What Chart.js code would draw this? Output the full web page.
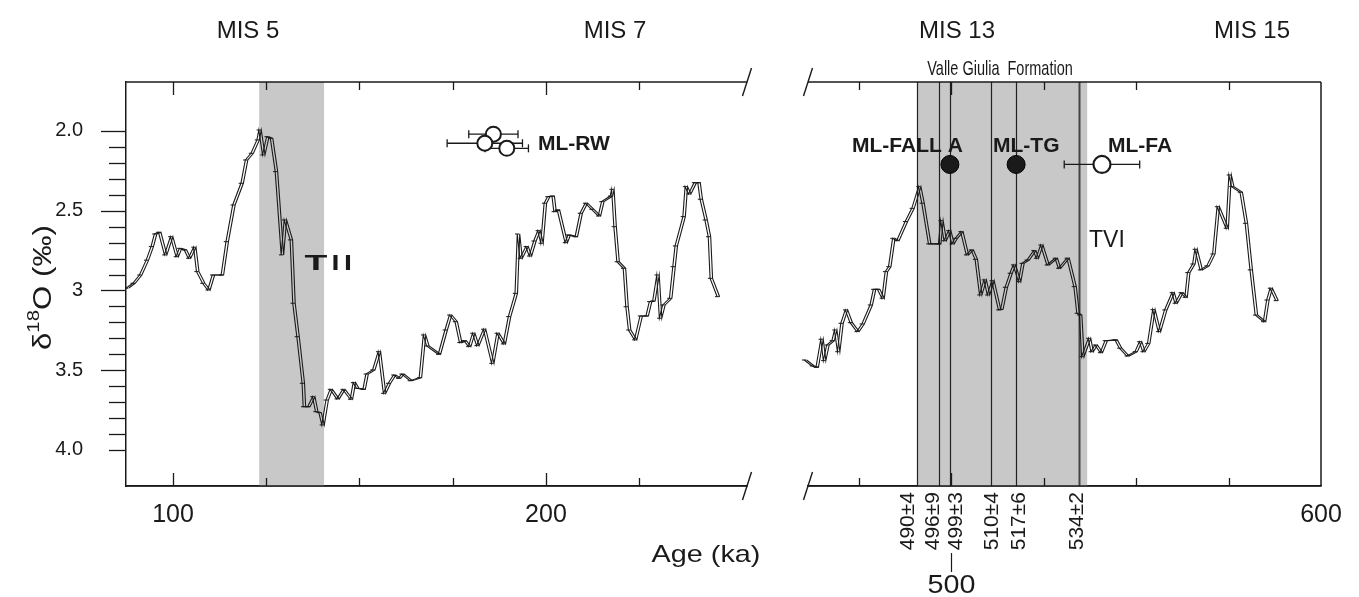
<!DOCTYPE html>
<html lang="en">
  <head>
    <meta charset="UTF-8" />
    <title>δ18O record, MIS 5–7 and MIS 13–15</title>
    <style>
      html,
      body {
        margin: 0;
        padding: 0;
        background: #fff;
      }
      #wrap {
        position: relative;
        width: 1359px;
        height: 597px;
      }
      #wrap canvas {
        position: absolute;
        left: 0;
        top: 0;
      }
    </style>
  </head>
  <body>
    <div id="wrap">
      <canvas id="leftChart" width="1359" height="597"></canvas>
      <canvas id="rightChart" width="1359" height="597"></canvas>
    </div>
    <script src="https://cdn.jsdelivr.net/npm/chart.js"></script>
    <script>
      const FONT = "'Liberation Sans', Arial, Helvetica, sans-serif"
      const INK = "#1a1a1a"

      // Benthic d18O, left panel (MIS 5 - MIS 7)
      const ageLeft = [
        87.4, 89.2, 91.0, 92.8, 94.1, 95.0, 96.1, 97.7, 99.3, 100.8, 101.7, 103.0,
        104.1, 105.5, 106.3, 107.9, 109.3, 110.5, 112.9, 114.2, 116.0, 118.2, 119.4,
        120.9, 122.5, 123.0, 124.0, 125.1, 126.1, 127.4, 129.0, 129.8, 131.4, 132.1,
        133.2, 134.6, 134.9, 136.1, 137.4, 138.2, 139.1, 139.9, 141.0, 142.1, 143.9,
        145.5, 147.5, 148.3, 149.2, 150.9, 151.7, 153.5, 155.0, 156.4, 157.7, 159.1,
        160.4, 161.3, 163.5, 166.0, 167.1, 168.0, 171.1, 172.9, 174.1, 175.6, 176.8,
        178.0, 179.2, 180.3, 181.4, 183.2, 185.4, 186.8, 188.5, 189.9, 191.7, 192.3,
        193.0, 194.6, 195.5, 196.7, 197.8, 198.6, 199.5, 200.4, 201.6, 202.1, 203.0,
        205.1, 205.9, 207.8, 209.1, 210.5, 212.2, 214.0, 214.9, 217.2, 217.6, 218.2,
        219.0, 220.7, 221.4, 222.1, 223.7, 225.2, 226.8, 227.7, 228.6, 229.7, 230.4,
        231.3, 233.1, 234.0, 234.6, 236.7, 237.3, 238.2, 239.7, 240.7, 241.3, 242.6,
        243.5, 244.0, 245.9,
      ]
      const d18OLeft = [
        2.986, 2.955, 2.903, 2.81, 2.725, 2.646, 2.635, 2.777, 2.663, 2.788, 2.736, 2.746,
        2.798, 2.729, 2.882, 2.955, 2.997, 2.903, 2.903, 2.694, 2.464, 2.328, 2.182,
        2.14, 2.056, 1.994, 2.15, 2.036, 2.046, 2.255, 2.777, 2.558, 2.683, 3.08,
        3.29, 3.582, 3.729, 3.729, 3.666, 3.76, 3.766, 3.843, 3.687, 3.62, 3.68,
        3.62, 3.682, 3.578, 3.613, 3.62, 3.524, 3.498, 3.384, 3.645, 3.582, 3.53,
        3.551, 3.524, 3.566, 3.547, 3.279, 3.348, 3.4, 3.248, 3.154, 3.196, 3.327,
        3.315, 3.352, 3.268, 3.346, 3.243, 3.457, 3.268, 3.335, 3.164, 3.018, 2.646,
        2.798, 2.725, 2.784, 2.69, 2.625, 2.704, 2.453, 2.412, 2.408, 2.506, 2.495,
        2.7, 2.652, 2.663, 2.516, 2.453, 2.491, 2.533, 2.443, 2.408, 2.366, 2.6,
        2.82, 2.861, 3.102, 3.248, 3.31, 3.16, 3.16, 3.07, 3.066, 2.903, 3.174,
        3.091, 3.049, 2.851, 2.721, 2.537, 2.349, 2.395, 2.324, 2.324, 2.428, 2.558,
        2.663, 2.924, 3.039,
      ]

      // Benthic d18O, right panel (MIS 13 - MIS 15)
      const ageRight = [
        457.6, 458.5, 459.2, 460.3, 462.4, 463.5, 464.8, 465.5, 466.4, 467.8, 468.5,
        469.3, 470.2, 471.4, 472.7, 474.5, 475.9, 478.1, 479.0, 480.1, 481.3, 482.2,
        483.1, 484.2, 485.3, 487.6, 489.4, 491.2, 492.1, 493.9, 496.6, 497.2, 498.1,
        499.3, 500.2, 501.1, 502.6, 504.1, 505.4, 506.5, 507.7, 508.9, 509.8, 511.0,
        512.8, 513.4, 514.6, 515.9, 516.8, 518.2, 519.1, 520.5, 522.3, 523.0, 524.2,
        525.9, 528.1, 529.0, 531.3, 533.2, 534.0, 534.7, 535.3, 537.1, 537.8, 538.9,
        540.3, 541.6, 544.3, 545.5, 547.5, 549.7, 550.9, 551.8, 553.1, 554.5, 556.0,
        557.7, 559.7, 560.5, 562.1, 563.2, 563.9, 565.3, 565.9, 567.3, 569.1, 570.7,
        571.9, 574.3, 575.1, 575.8, 578.1, 579.5, 580.8, 582.2, 584.4, 585.3, 586.2,
        587.8,
      ]
      const d18ORight = [
        3.498, 3.419, 3.494, 3.436, 3.473, 3.482, 3.306, 3.44, 3.342, 3.315, 3.248,
        3.384, 3.206, 3.122, 3.202, 3.258, 3.21, 3.091, 2.993, 2.993, 3.049, 2.882,
        2.851, 2.673, 2.688, 2.568, 2.485, 2.349, 2.453, 2.708, 2.708, 2.562, 2.688,
        2.625, 2.708, 2.673, 2.631, 2.777, 2.746, 2.805, 3.028, 2.934, 3.028, 2.939,
        3.122, 3.118, 2.98, 2.892, 2.84, 2.945, 2.83, 2.809, 2.75, 2.798, 2.715,
        2.84, 2.798, 2.861, 2.798, 2.976, 3.143, 3.154, 3.415, 3.3, 3.384, 3.342,
        3.39, 3.315, 3.31, 3.362, 3.411, 3.384, 3.321, 3.384, 3.332, 3.12, 3.258,
        3.122, 3.014, 3.08, 3.014, 3.043, 2.888, 2.834, 2.742, 2.871, 2.846, 2.771,
        2.475, 2.61, 2.276, 2.349, 2.384, 2.579, 2.871, 3.154, 3.196, 3.06, 2.986,
        3.064,
      ]

      // tephra ages with uncertainty (ka)
      const rwAge = [185.9, 183.6, 189.5]
      const rwD18O = [2.02, 2.077, 2.109]
      const rwErr = [6.6, 10.1, 5.8]
      const filledAge = [499.7, 517.6] // ML-FALL A, ML-TG
      const filledD18O = [2.21, 2.21]
      const faAge = [540.8] // ML-FA
      const faD18O = [2.21]
      const faErr = [10.2]

      // 40Ar/39Ar dates shown as vertical lines
      const dateAges = [490.8, 496.8, 499.7, 510.8, 517.6, 534.6]
      const dateLabels = ["490±4", "496±9", "499±3", "510±4", "517±6", "534±2"]

      // terminations (grey bands)
      const bandLeft = [123.1, 140.5]
      const bandRight = [490.8, 536.8]

      // axes
      const yTickVals = [
        2.0, 2.1, 2.2, 2.3, 2.4, 2.5, 2.6, 2.7, 2.8, 2.9, 3.0, 3.1, 3.2, 3.3, 3.4,
        3.5, 3.6, 3.7, 3.8, 3.9, 4.0,
      ]
      const yTickText = [
        "2.0", "", "", "", "", "2.5", "", "", "", "", "3", "", "", "", "", "3.5",
        "", "", "", "", "4.0",
      ]
      const xTickValsLeft = [100, 125, 150, 175, 200, 225]
      const xTickTextLeft = ["100", "", "", "", "200", ""]
      const xTickValsRight = [475, 500, 525, 550, 575, 600]
      const xTickTextRight = ["", "", "", "", "", "600"]

      const toXY = (xs, ys) => xs.map((x, i) => ({ x: x, y: ys[i] }))

      function text(ctx, s, x, y, size, opt) {
        opt = opt || {}
        ctx.save()
        ctx.font = (opt.bold ? "bold " : "") + size + "px " + FONT
        ctx.fillStyle = INK
        ctx.textAlign = opt.align || "center"
        ctx.textBaseline = "middle"
        ctx.translate(x, y)
        if (opt.rot) ctx.rotate(opt.rot)
        ctx.scale(opt.sx || 1, 1)
        ctx.fillText(s, 0, 0)
        ctx.restore()
      }

      function line(ctx, x0, y0, x1, y1, w, c) {
        ctx.save()
        ctx.strokeStyle = c || INK
        ctx.lineWidth = w || 1.5
        ctx.beginPath()
        ctx.moveTo(x0, y0)
        ctx.lineTo(x1, y1)
        ctx.stroke()
        ctx.restore()
      }

      function breakMark(ctx, x, y) {
        line(ctx, x + 4.5, y - 14, x - 4.5, y + 14, 1.4)
      }

      function inwardTicks(chart, majors) {
        const { ctx, chartArea: a, scales } = chart
        scales.x.ticks.forEach((t) => {
          if (t.value >= scales.x.max) return
          const px = Math.round(scales.x.getPixelForValue(t.value)) + 0.5
          const len = majors.includes(t.value) ? 13 : 8
          line(ctx, px, a.top, px, a.top + len, 1.3)
          line(ctx, px, a.bottom, px, a.bottom - len, 1.3)
        })
      }

      function errorBars(chart) {
        const { ctx, scales } = chart
        chart.data.datasets.forEach((ds) => {
          if (!ds.errX) return
          ds.data.forEach((p, i) => {
            const xl = scales.x.getPixelForValue(p.x - ds.errX[i])
            const xr = scales.x.getPixelForValue(p.x + ds.errX[i])
            const py = scales.y.getPixelForValue(p.y)
            line(ctx, xl, py, xr, py, 1.3)
            line(ctx, xl, py - 4, xl, py + 4, 1.3)
            line(ctx, xr, py - 4, xr, py + 4, 1.3)
          })
        })
      }

      // second copy of the record is drawn a little to the right (double line look)
      const shiftPlugin = {
        id: "shift",
        beforeDatasetDraw(chart, args) {
          if (chart.data.datasets[args.index].shiftPx) {
            chart.ctx.save()
            chart.ctx.translate(chart.data.datasets[args.index].shiftPx, 0)
          }
        },
        afterDatasetDraw(chart, args) {
          if (chart.data.datasets[args.index].shiftPx) chart.ctx.restore()
        },
      }

      const leftDecor = {
        id: "leftDecor",
        beforeDatasetsDraw(chart) {
          const { ctx, chartArea: a, scales } = chart
          const x0 = scales.x.getPixelForValue(bandLeft[0])
          const x1 = scales.x.getPixelForValue(bandLeft[1])
          ctx.save()
          ctx.fillStyle = "#c8c8c8"
          ctx.fillRect(x0, a.top, x1 - x0, a.bottom - a.top)
          ctx.restore()
          errorBars(chart)
        },
        afterDraw(chart) {
          const { ctx, chartArea: a, scales } = chart
          line(ctx, a.left, a.top, a.right, a.top)
          line(ctx, a.left, a.bottom, a.right, a.bottom)
          inwardTicks(chart, [100, 200])
          // outward y ticks
          scales.y.ticks.forEach((t, i) => {
            const py = Math.round(scales.y.getPixelForValue(t.value)) + 0.5
            const len = yTickText[i] && t.value < 4 ? 25 : 17
            line(ctx, a.left - len, py, a.left, py, 1.3)
          })
          breakMark(ctx, a.right, a.top)
          breakMark(ctx, a.right, a.bottom)

          text(ctx, "MIS 5", 248, 31, 24)
          text(ctx, "MIS 7", 615, 31, 24)
          text(ctx, "ML-RW", 538, 144, 21, { bold: true, align: "left" })
          text(ctx, "T", 316, 264, 22, { bold: true, sx: 1.7 })
          text(ctx, "I", 335.5, 264, 22, { bold: true, sx: 1.3 })
          text(ctx, "I", 348, 264, 22, { bold: true, sx: 1.3 })
          text(ctx, "Age (ka)", 706, 555, 24, { sx: 1.2 })

          // y title: δ18O (‰)
          ctx.save()
          ctx.fillStyle = INK
          ctx.translate(51, 350)
          ctx.rotate(-Math.PI / 2)
          ctx.scale(1.2, 1)
          ctx.textAlign = "left"
          ctx.textBaseline = "alphabetic"
          let cx = 0
          ctx.font = "26px " + FONT
          ctx.fillText("δ", cx, 0)
          cx += ctx.measureText("δ").width
          ctx.font = "17px " + FONT
          ctx.fillText("18", cx, -12)
          cx += ctx.measureText("18").width
          ctx.font = "26px " + FONT
          ctx.fillText("O (‰)", cx, 0)
          ctx.restore()
        },
      }

      const rightDecor = {
        id: "rightDecor",
        beforeDatasetsDraw(chart) {
          const { ctx, chartArea: a, scales } = chart
          const x0 = scales.x.getPixelForValue(bandRight[0])
          const x1 = scales.x.getPixelForValue(bandRight[1])
          ctx.save()
          ctx.fillStyle = "#c8c8c8"
          ctx.fillRect(x0, a.top, x1 - x0, a.bottom - a.top)
          ctx.restore()
          dateAges.forEach((v, i) => {
            const px = Math.round(scales.x.getPixelForValue(v)) + 0.5
            const last = i === dateAges.length - 1
            line(ctx, px, a.top, px, a.bottom, last ? 2 : 1.2, last ? "#444" : "#222")
          })
          errorBars(chart)
        },
        afterDraw(chart) {
          const { ctx, chartArea: a, scales } = chart
          line(ctx, a.left, a.top, a.right, a.top)
          line(ctx, a.left, a.bottom, a.right, a.bottom)
          line(ctx, a.right, a.top, a.right, a.bottom)
          inwardTicks(chart, [500])
          breakMark(ctx, a.left, a.top)
          breakMark(ctx, a.left, a.bottom)

          text(ctx, "MIS 13", 957, 31, 24)
          text(ctx, "MIS 15", 1252, 31, 24)
          text(ctx, "Valle Giulia  Formation", 1000, 69, 21, { sx: 0.69 })
          text(ctx, "ML-FALL A", 852, 146, 21, { bold: true, align: "left" })
          text(ctx, "ML-TG", 993, 146, 21, { bold: true, align: "left" })
          text(ctx, "ML-FA", 1108, 146, 21, { bold: true, align: "left" })
          text(ctx, "TVI", 1089, 241, 23, { align: "left" })

          // rotated date labels under the axis
          const shift = [-9, -6, 6, 1, 3, -2]
          dateAges.forEach((v, i) => {
            const px = scales.x.getPixelForValue(v) + shift[i]
            text(ctx, dateLabels[i], px, 492, 21, { align: "right", rot: -Math.PI / 2 })
          })
          const p500 = Math.round(scales.x.getPixelForValue(500)) + 0.5
          line(ctx, p500, 553, p500, 572, 1.2)
          text(ctx, "500", p500, 586, 25, { sx: 1.15 })
        },
      }

      function curveSets(ages, vals, clip) {
        const pts = toXY(ages, vals)
        return [
          {
            data: pts,
            borderColor: INK,
            borderWidth: 1.1,
            pointStyle: "line",
            pointRadius: 2.2,
            pointBorderWidth: 1,
            pointBorderColor: INK,
            clip: clip,
            order: 5,
          },
          {
            data: pts,
            borderColor: INK,
            borderWidth: 1.1,
            pointRadius: 0,
            shiftPx: 2.5,
            clip: clip,
            order: 6,
          },
        ]
      }

      function options(o) {
        const y = {
          type: "linear",
          min: 1.693,
          max: 4.226,
          reverse: true,
          display: o.showY,
          grid: { display: false, drawTicks: false },
          border: { display: true, color: INK, width: 1.5 },
          afterBuildTicks: (s) => {
            s.ticks = yTickVals.map((v) => ({ value: v }))
          },
          ticks: {
            autoSkip: false,
            padding: 43,
            color: INK,
            font: { family: FONT, size: 20 },
            callback: (v, i) => yTickText[i],
          },
        }
        if (o.showY) y.afterFit = (s) => { s.width = 126 }
        return {
          responsive: false,
          animation: false,
          events: [],
          layout: { padding: o.pad },
          plugins: { legend: { display: false }, tooltip: { enabled: false } },
          scales: {
            x: {
              type: "linear",
              min: o.xMin,
              max: o.xMax,
              grid: { display: false, drawTicks: false },
              border: { display: true, color: INK, width: 1.5 },
              afterBuildTicks: (s) => {
                s.ticks = o.xTicks.map((v) => ({ value: v }))
              },
              afterFit: (s) => {
                s.height = 111
              },
              ticks: {
                autoSkip: false,
                maxRotation: 0,
                padding: 14,
                color: INK,
                font: { family: FONT, size: 25 },
                callback: (v, i) => o.xText[i],
              },
            },
            y: y,
          },
        }
      }

      new Chart(document.getElementById("leftChart"), {
        type: "line",
        data: {
          datasets: [
            {
              data: toXY(rwAge, rwD18O),
              showLine: false,
              pointRadius: 7.5,
              pointBackgroundColor: "#fff",
              pointBorderColor: INK,
              pointBorderWidth: 2,
              errX: rwErr,
              order: 1,
            },
          ].concat(curveSets(ageLeft, d18OLeft, undefined)),
        },
        options: options({
          showY: true,
          pad: { left: 0, right: 612, top: 82, bottom: 0 },
          xMin: 87.4,
          xMax: 253.9,
          xTicks: xTickValsLeft,
          xText: xTickTextLeft,
        }),
        plugins: [shiftPlugin, leftDecor],
      })

      new Chart(document.getElementById("rightChart"), {
        type: "line",
        data: {
          datasets: [
            {
              data: toXY(filledAge, filledD18O),
              showLine: false,
              pointRadius: 9,
              pointBackgroundColor: INK,
              pointBorderColor: "#000",
              pointBorderWidth: 1,
              order: 1,
            },
            {
              data: toXY(faAge, faD18O),
              showLine: false,
              pointRadius: 8.5,
              pointBackgroundColor: "#fff",
              pointBorderColor: INK,
              pointBorderWidth: 2.2,
              errX: faErr,
              order: 1,
            },
          ].concat(curveSets(ageRight, d18ORight, false)),
        },
        options: options({
          showY: false,
          pad: { left: 808, right: 38, top: 82, bottom: 0 },
          xMin: 461.35,
          xMax: 600,
          xTicks: xTickValsRight,
          xText: xTickTextRight,
        }),
        plugins: [shiftPlugin, rightDecor],
      })
    </script>
  </body>
</html>
